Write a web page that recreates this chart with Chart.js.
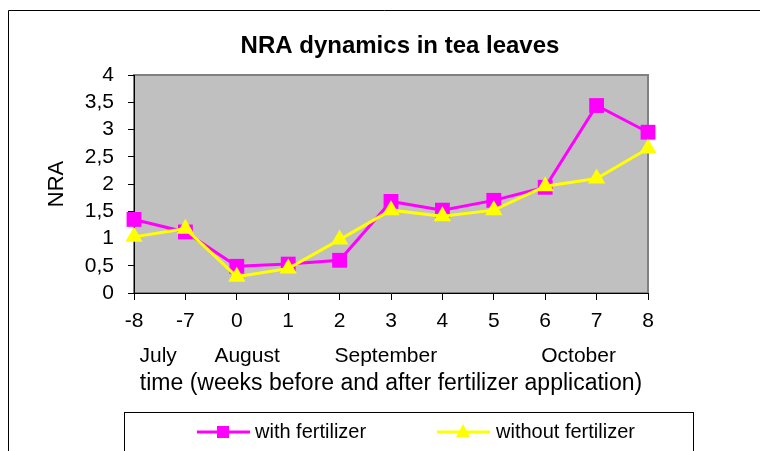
<!DOCTYPE html>
<html>
<head>
<meta charset="utf-8">
<script src="https://cdn.jsdelivr.net/npm/chart.js@4.4.0/dist/chart.umd.min.js"></script>
<style>
  html, body { margin: 0; padding: 0; background: #fff; }
  canvas { display: block; }
</style>
</head>
<body>
<canvas id="grafico" width="760" height="451"></canvas>
<script>
// ============================
// DATA
// ============================
const semanas = ['-8', '-7', '0', '1', '2', '3', '4', '5', '6', '7', '8'];
const comFertilizante = [1.35, 1.12, 0.49, 0.53, 0.60, 1.68, 1.52, 1.70, 1.94, 3.44, 2.95];
const semFertilizante = [1.03, 1.18, 0.30, 0.45, 0.98, 1.52, 1.41, 1.52, 1.96, 2.10, 2.65];
const meses = ['July', 'August', 'September', 'October'];
const posMeses = [0.47, 2.2, 4.9, 8.65]; // category index where each month label sits

const FONTE = "'Liberation Sans', Arial, sans-serif";
Chart.defaults.font.family = FONTE;
Chart.defaults.color = '#000';

// ============================
// PLUGIN: frame, title, months, legend
// ============================
const moldura = {
  id: 'moldura',
  beforeDraw(chart) {
    const { ctx, chartArea: a } = chart;
    ctx.save();
    ctx.fillStyle = '#c0c0c0';
    ctx.fillRect(a.left, a.top, a.right - a.left, a.bottom - a.top);
    ctx.strokeStyle = '#808080';
    ctx.lineWidth = 2;
    ctx.strokeRect(a.left, a.top, a.right - a.left, a.bottom - a.top);
    ctx.restore();
  },
  afterDraw(chart) {
    const { ctx } = chart;
    const x = chart.scales.x;
    ctx.save();

    // outer border (continues off the picture)
    ctx.strokeStyle = '#000';
    ctx.lineWidth = 1;
    ctx.beginPath();
    ctx.moveTo(8.5, 460);
    ctx.lineTo(8.5, 10.5);
    ctx.lineTo(770, 10.5);
    ctx.stroke();

    // title
    ctx.fillStyle = '#000';
    ctx.textAlign = 'center';
    ctx.textBaseline = 'alphabetic';
    ctx.font = 'bold 24px ' + FONTE;
    ctx.fillText('NRA dynamics in tea leaves', 400, 53);

    // months
    ctx.font = '21px ' + FONTE;
    meses.forEach((m, i) => {
      ctx.fillText(m, x.getPixelForValue(posMeses[i]), 362);
    });

    // legend
    ctx.strokeStyle = '#000';
    ctx.lineWidth = 1;
    ctx.strokeRect(124.5, 412.5, 569, 60);

    const ly = 432;
    ctx.lineWidth = 3;
    ctx.strokeStyle = '#ff00ff';
    ctx.beginPath(); ctx.moveTo(197, ly); ctx.lineTo(250, ly); ctx.stroke();
    ctx.fillStyle = '#ff00ff';
    ctx.fillRect(217, ly - 6, 12, 12);

    ctx.strokeStyle = '#ffff00';
    ctx.beginPath(); ctx.moveTo(437, ly); ctx.lineTo(490, ly); ctx.stroke();
    ctx.fillStyle = '#ffff00';
    ctx.beginPath();
    ctx.moveTo(463, ly - 8);
    ctx.lineTo(470, ly + 5);
    ctx.lineTo(456, ly + 5);
    ctx.closePath();
    ctx.fill();

    ctx.fillStyle = '#000';
    ctx.textAlign = 'left';
    ctx.textBaseline = 'middle';
    ctx.font = '20px ' + FONTE;
    ctx.fillText('with fertilizer', 255, ly);
    ctx.fillText('without fertilizer', 496, ly);
    ctx.restore();
  }
};

// ============================
// CHART
// ============================
new Chart(document.getElementById('grafico'), {
  type: 'line',
  data: {
    labels: semanas,
    datasets: [
      {
        label: 'with fertilizer', data: comFertilizante, order: 1,
        borderColor: '#ff00ff', backgroundColor: '#ff00ff', borderWidth: 3,
        pointStyle: 'rect', pointRadius: 10.5, pointBorderWidth: 0, clip: false
      },
      {
        label: 'without fertilizer', data: semFertilizante, order: 0, // yellow on top
        borderColor: '#ffff00', backgroundColor: '#ffff00', borderWidth: 3,
        pointStyle: 'triangle', pointRadius: 10, pointBorderWidth: 0, clip: false
      }
    ]
  },
  options: {
    responsive: false,
    animation: false,
    layout: { padding: { top: 75, right: 112, bottom: 0, left: 0 } },
    plugins: { legend: { display: false }, tooltip: { enabled: false }, title: { display: false } },
    scales: {
      x: {
        type: 'category',
        offset: false,
        grid: { display: true, drawOnChartArea: false, drawTicks: true, tickLength: 7, color: '#000' },
        border: { display: true, color: '#000', width: 1 },
        ticks: { font: { size: 21 }, padding: 9, maxRotation: 0, autoSkip: false, color: '#000' },
        title: {
          display: true, text: 'time (weeks before and after fertilizer application)',
          font: { size: 23 }, padding: { top: 0, bottom: 54 }, color: '#000'
        },
        afterFit(s) { s.height = 158; }
      },
      y: {
        min: 0, max: 4,
        grid: { display: true, drawOnChartArea: false, drawTicks: true, tickLength: 6, color: '#000' },
        border: { display: true, color: '#000', width: 1 },
        ticks: {
          stepSize: 0.5, autoSkip: false, font: { size: 21 }, padding: 14, color: '#000',
          callback: v => String(v).replace('.', ',')
        },
        title: { display: true, text: 'NRA', font: { size: 22 }, padding: { top: 44, bottom: 0 }, color: '#000' },
        afterFit(s) { s.width = 134; }
      }
    }
  },
  plugins: [moldura]
});
</script>
</body>
</html>
